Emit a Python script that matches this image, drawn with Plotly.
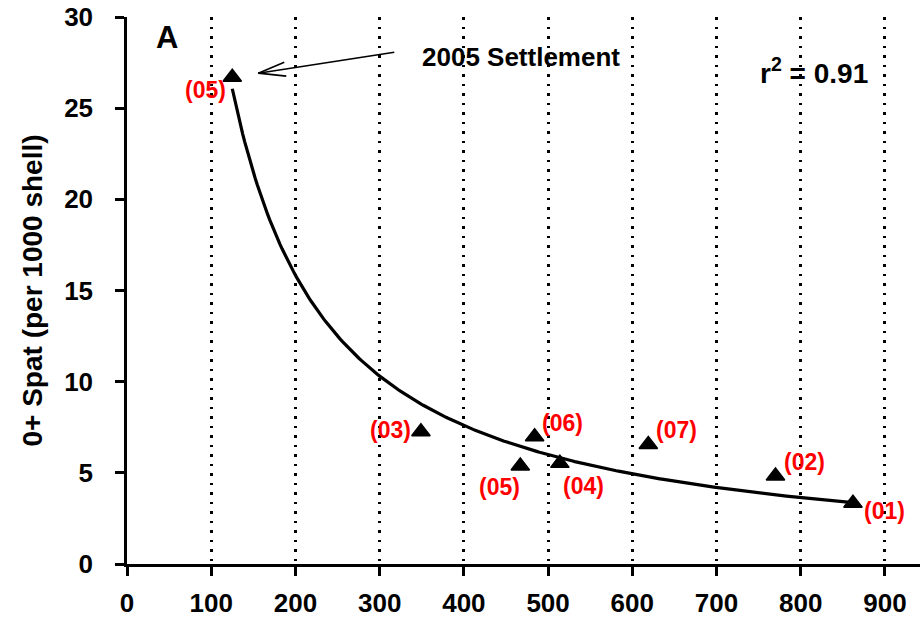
import numpy as np
import plotly.graph_objects as go

# ---- data ----
x_vals = [125, 349, 467, 484, 514, 619, 770, 862]
y_vals = [26.7, 7.26, 5.38, 6.98, 5.52, 6.56, 4.83, 3.33]
year_labels = ["(05)", "(03)", "(05)", "(06)", "(04)", "(07)", "(02)", "(01)"]
# label offsets (pixels) relative to each point
label_dx = [-27, -30, -21, 28, 24, 28, 29, 32]
label_dy = [-13, 2, -21, 14, -23, 14, 14, -8]

# power trend line y = a * x^b
FIT_A = 4353.0
FIT_B = -1.06

x_ticks = [0, 100, 200, 300, 400, 500, 600, 700, 800, 900]
y_ticks = [0, 5, 10, 15, 20, 25, 30]

FONT = "Liberation Sans, Arial, sans-serif"

fig = go.Figure()

xf = np.linspace(min(x_vals), max(x_vals), 300)
yf = FIT_A * xf ** FIT_B
fig.add_trace(go.Scatter(x=xf, y=yf, mode="lines",
                         line=dict(color="black", width=3.2),
                         hoverinfo="skip", showlegend=False))

fig.add_trace(go.Scatter(x=x_vals, y=y_vals, mode="markers",
                         marker=dict(symbol="triangle-up", size=16, color="black",
                                     line=dict(color="black", width=1.5)),
                         showlegend=False))

annotations = []
for xv, yv, t, dx, dy in zip(x_vals, y_vals, year_labels, label_dx, label_dy):
    annotations.append(dict(x=xv, y=yv, xref="x", yref="y", text=t, showarrow=False,
                            xshift=dx, yshift=dy,
                            font=dict(family=FONT, size=23, color="#FF0000", weight=700)))

# open-V arrow pointing at the 2005 settlement point (pixel offsets from the point)
arrow_segments = [((26, 4), (162, 25)), ((26, 4), (52, 15)), ((26, 4), (54, 1))]
shapes = []
for (x0, y0), (x1, y1) in arrow_segments:
    shapes.append(dict(type="line", xref="x", yref="y",
                       xsizemode="pixel", ysizemode="pixel",
                       xanchor=x_vals[0], yanchor=y_vals[0],
                       x0=x0, y0=y0, x1=x1, y1=y1,
                       line=dict(color="black", width=1.6)))

annotations.append(dict(x=x_vals[0], y=y_vals[0], xref="x", yref="y",
                        text="2005 Settlement", showarrow=False,
                        xshift=289, yshift=20, xanchor="center",
                        font=dict(family=FONT, size=26, color="black", weight=700)))

annotations.append(dict(x=0.866, y=0.901, xref="paper", yref="paper",
                        text="r<sup>2</sup> = 0.91", showarrow=False,
                        xanchor="center", yanchor="middle",
                        font=dict(family=FONT, size=28, color="black", weight=700)))
annotations.append(dict(x=0.0504, y=0.9634, xref="paper", yref="paper",
                        text="A", showarrow=False, xanchor="center", yanchor="middle",
                        font=dict(family=FONT, size=31, color="black", weight=700)))

fig.update_layout(
    width=920, height=617,
    margin=dict(l=127, r=0, t=17, b=53),
    paper_bgcolor="white", plot_bgcolor="white",
    font=dict(family=FONT, color="black"),
    annotations=annotations,
    shapes=shapes,
    showlegend=False,
)

fig.update_xaxes(
    range=[0, 941.6], tickvals=x_ticks, ticktext=[str(v) for v in x_ticks],
    showline=True, linecolor="black", linewidth=2.5,
    ticks="outside", ticklen=9, tickwidth=2.5, tickcolor="black",
    tickfont=dict(family=FONT, size=26, color="black", weight=700),
    showgrid=True, gridcolor="black", gridwidth=2.7, griddash="2.7px,6.8px",
    zeroline=False, ticklabelstandoff=5,
)
fig.update_yaxes(
    range=[0, 30], tickvals=y_ticks, ticktext=[str(v) for v in y_ticks],
    showline=True, linecolor="black", linewidth=2.5,
    ticks="outside", ticklen=9, tickwidth=2.5, tickcolor="black",
    tickfont=dict(family=FONT, size=26, color="black", weight=700),
    showgrid=False, zeroline=False, ticklabelstandoff=17,
    title=dict(text="0+ Spat (per 1000 shell)", standoff=14,
               font=dict(family=FONT, size=28, color="black", weight=700)),
)

fig.write_html("out.html")
